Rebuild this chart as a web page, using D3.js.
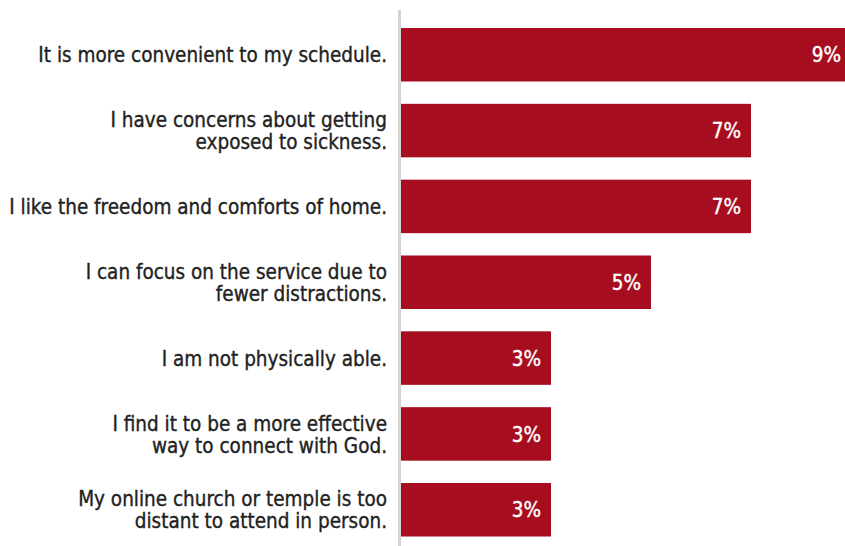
<!DOCTYPE html>
<html>
<head>
<meta charset="utf-8">
<script src="https://cdn.jsdelivr.net/npm/d3@7"></script>
<style>
  html, body { margin: 0; padding: 0; background: #fff; overflow: hidden; }
  svg { display: block; }
  text { font-family: "DejaVu Sans Condensed", "DejaVu Sans", sans-serif; }
</style>
</head>
<body>
<svg id="chart" width="845" height="546"></svg>
<script>
// Reasons given for attending services online
const categories = [
  "It is more convenient to my schedule.",
  "I have concerns about getting\nexposed to sickness.",
  "I like the freedom and comforts of home.",
  "I can focus on the service due to\nfewer distractions.",
  "I am not physically able.",
  "I find it to be a more effective\nway to connect with God.",
  "My online church or temple is too\ndistant to attend in person."
];
const values = [9, 7, 7, 5, 3, 3, 3];
const valueLabels = ["9%", "7%", "7%", "5%", "3%", "3%", "3%"];

const svg = d3.select("#chart");
const W = 845, H = 546;
const x0 = 401;

const x = d3.scaleLinear().domain([0, 10]).range([x0, x0 + 500]);
const y = d3.scaleBand()
  .domain(categories)
  .range([16.83, 547.67])
  .paddingInner(0.2945)
  .paddingOuter(0.1472);

const barColor = "#a60d1f";

// bars
svg.append("g")
  .selectAll("rect")
  .data(values)
  .join("rect")
  .attr("x", x(0))
  .attr("y", (d, i) => y(categories[i]))
  .attr("width", d => x(d) - x(0))
  .attr("height", y.bandwidth())
  .attr("fill", barColor);

// value labels inside bar ends
svg.append("g")
  .selectAll("text")
  .data(values)
  .join("text")
  .attr("x", d => x(d) - 10)
  .attr("y", (d, i) => y(categories[i]) + y.bandwidth() / 2)
  .attr("dy", "0.37em")
  .attr("text-anchor", "end")
  .attr("fill", "#fff")
  .attr("stroke", "#fff")
  .attr("stroke-width", 0.4)
  .attr("font-size", 20.5)
  .text((d, i) => valueLabels[i]);

// category labels (one text per category, tspans for wrapped lines)
const lineH = 22;
const lab = svg.append("g")
  .selectAll("text")
  .data(categories)
  .join("text")
  .attr("text-anchor", "end")
  .attr("fill", "#222")
  .attr("stroke", "#222")
  .attr("stroke-width", 0.35)
  .attr("font-size", 20.5);

lab.each(function(c) {
  const lines = c.split("\n");
  const cy = y(c) + y.bandwidth() / 2;
  const first = cy - (lines.length - 1) * lineH / 2;
  d3.select(this).selectAll("tspan")
    .data(lines)
    .join("tspan")
    .attr("x", 387)
    .attr("y", (l, i) => first + i * lineH)
    .attr("dy", "0.37em")
    .text(l => l);
});

// vertical baseline
svg.append("line")
  .attr("x1", 399.5).attr("x2", 399.5)
  .attr("y1", 10).attr("y2", H)
  .attr("stroke", "#d3d3d3")
  .attr("stroke-width", 3);
</script>
</body>
</html>
